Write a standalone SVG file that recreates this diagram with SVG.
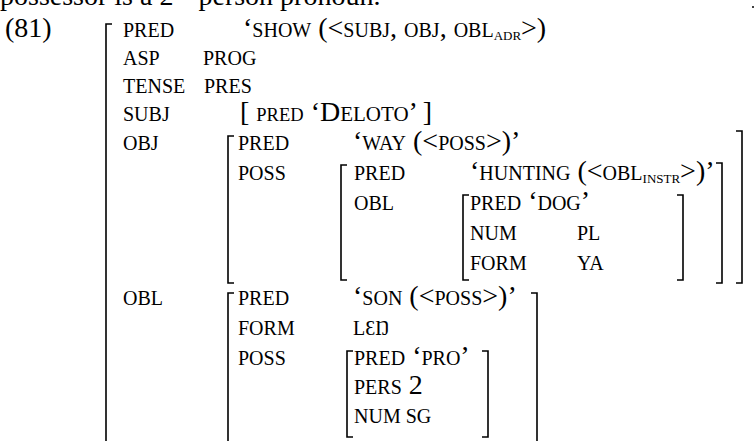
<svg xmlns="http://www.w3.org/2000/svg" width="755" height="441" viewBox="0 0 755 441">
<style>
text{font-family:"Liberation Serif","DejaVu Serif",serif;fill:#000;font-size:28px}
.sc{font-size:20px}
.sub{font-size:13px}
.s18{font-size:18.5px}
.s21{font-size:21px}
.br{fill:none;stroke:#000;stroke-width:1.6}
</style>
<rect width="755" height="441" fill="#fff"/>
<text x="0" y="5">possessor is a 2<tspan font-size="18" dy="-10">nd</tspan><tspan dy="10"> person pronoun.</tspan></text>
<circle cx="753" cy="7" r="1" fill="#000"/>
<text x="5" y="37">(81)</text>

<g id="fs-main">
<path class="br" d="M112,24 H106 V441" stroke-width="1.8"/>
<text x="123" y="37" class="sc">PRED</text>
<text x="243" y="37">‘<tspan class="sc">SHOW</tspan> (&lt;<tspan class="sc">SUBJ</tspan>, <tspan class="sc">OBJ</tspan>, <tspan class="sc">OBL</tspan><tspan class="sub" dy="3">ADR</tspan><tspan dy="-3">&gt;)</tspan></text>
<text x="123" y="65" class="sc">ASP</text>
<text x="203" y="65" class="sc">PROG</text>
<text x="123" y="93" class="sc">TENSE</text>
<text x="204" y="93" class="sc">PRES</text>
<text x="123" y="121" class="sc">SUBJ</text>
<text x="240" y="121">[ <tspan class="s18">PRED</tspan> ‘D<tspan class="s21">ELOTO</tspan>’ ]</text>
<text x="123" y="150" class="sc">OBJ</text>
<text x="123" y="305" class="sc">OBL</text>
</g>

<g id="fs-obj">
<path class="br" d="M234,136 H228 V283 H234"/>
<path class="br" d="M736,131 H742 V283 H736"/>
<text x="238" y="150" class="sc">PRED</text>
<text x="353" y="150">‘<tspan class="sc">WAY</tspan> (&lt;<tspan class="sc">POSS</tspan>&gt;)’</text>
<text x="238" y="180" class="sc">POSS</text>
</g>

<g id="fs-obj-poss">
<path class="br" d="M347,165 H341 V280 H347"/>
<path class="br" d="M716,163 H722 V283 H716"/>
<text x="354" y="180" class="sc">PRED</text>
<text x="470" y="180">‘<tspan class="sc">HUNTING</tspan> (&lt;<tspan class="sc">OBL</tspan><tspan class="sub" dy="3">INSTR</tspan><tspan dy="-3">&gt;)’</tspan></text>
<text x="354" y="210" class="sc">OBL</text>
</g>

<g id="fs-obj-poss-obl">
<path class="br" d="M469,195 H463 V280 H469"/>
<path class="br" d="M677,195 H683 V280 H677"/>
<text x="470" y="210"><tspan class="sc">PRED</tspan> ‘<tspan class="sc">DOG</tspan>’</text>
<text x="470" y="240" class="sc">NUM</text>
<text x="577" y="240" class="sc">PL</text>
<text x="470" y="270" class="sc">FORM</text>
<text x="577" y="270" class="sc">YA</text>
</g>

<g id="fs-obl">
<path class="br" d="M234,293 H228 V441"/>
<path class="br" d="M531,293 H537 V441"/>
<text x="238" y="305" class="sc">PRED</text>
<text x="353" y="305">‘<tspan class="sc">SON</tspan> (&lt;<tspan class="sc">POSS</tspan>&gt;)’</text>
<text x="238" y="335" class="sc">FORM</text>
<text x="353" y="335" class="sc">LƐŊ</text>
<text x="238" y="365" class="sc">POSS</text>
</g>

<g id="fs-obl-poss">
<path class="br" d="M353,351 H347 V437 H353"/>
<path class="br" d="M482,351 H488 V437 H482"/>
<text x="354" y="365"><tspan class="sc">PRED</tspan> ‘<tspan class="sc">PRO</tspan>’</text>
<text x="354" y="394"><tspan class="sc">PERS</tspan> 2</text>
<text x="354" y="423" class="sc">NUM SG</text>
</g>
</svg>
